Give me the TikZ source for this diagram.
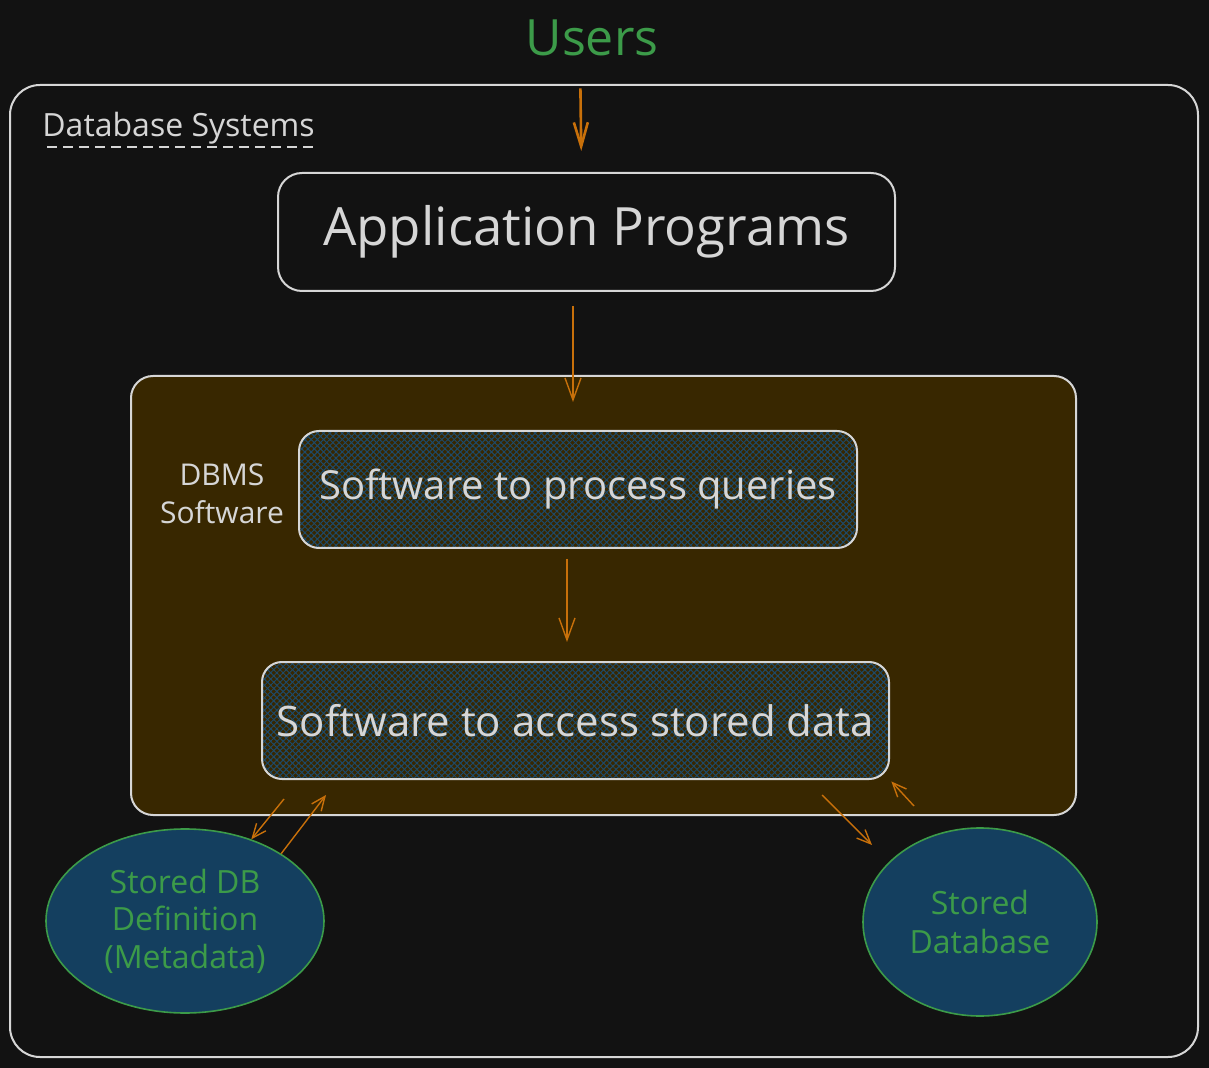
\documentclass[tikz,border=0pt]{standalone}
\usepackage{fontspec}
\setmainfont{Open Sans}
\usetikzlibrary{arrows.meta,shapes.geometric,patterns.meta}

\definecolor{bgdark}{HTML}{121212}
\definecolor{linegrey}{HTML}{D6D6D6}
\definecolor{flowor}{HTML}{C8700A}
\definecolor{dbmsbrown}{HTML}{382700}
\definecolor{hatchblue}{HTML}{1D4A6B}
\definecolor{storeblue}{HTML}{143F5F}
\definecolor{storegreen}{HTML}{3C9B49}

\tikzset{
  panel/.style={draw=linegrey, line width=1pt, inner sep=0pt},
  appbox/.style={panel, rounded corners=12pt, fill=bgdark, text=linegrey},
  softbox/.style={panel, rounded corners=10pt, text=linegrey,
    preaction={pattern={Lines[angle=45,distance=2.2pt,line width=.5pt]}, pattern color=hatchblue},
    preaction={pattern={Lines[angle=-45,distance=2.2pt,line width=.5pt]}, pattern color=hatchblue}},
  store/.style={ellipse, draw=storegreen, line width=.8pt, fill=storeblue, text=storegreen,
    align=center, inner sep=0pt},
  flow/.style={draw=flowor, line width=.7pt, -{Straight Barb[length=11pt,width=8pt]}},
  smallflow/.style={draw=flowor, line width=.7pt, -{Straight Barb[length=7pt,width=6pt]}},
}

\begin{document}
\begin{tikzpicture}[x=0.5pt,y=-0.5pt]
	
	\fill[bgdark] (0,0) rectangle (1209,1068);
	\useasboundingbox (0,0) rectangle (1209,1068);
	
	\node[panel, rounded corners=15pt, minimum width=594pt, minimum height=486pt] (dbsys) at (604,571) {};
	\node[text=storegreen, inner sep=0pt, font=\fontsize{25}{30}\selectfont] (users) at (592,38) {Users};
	\node[text=linegrey, inner sep=0pt, anchor=base west, font=\fontsize{16}{20}\selectfont] (dbsyslabel) at (42,137) {Database Systems};
	\draw[linegrey, line width=1pt, dash pattern=on 5pt off 3pt] ([xshift=2.5pt,yshift=-5pt]dbsyslabel.base west) -- ([yshift=-5pt]dbsyslabel.base east);
	
	\node[appbox, minimum width=308.5pt, minimum height=59pt, font=\fontsize{26.4}{30}\selectfont] (app) at (586.5,232) {Application Programs};
	
	\node[panel, rounded corners=11pt, fill=dbmsbrown, minimum width=472.5pt, minimum height=219.5pt] (dbms) at (603.5,595.5) {};
	\node[text=linegrey, align=center, font=\fontsize{15}{19}\selectfont] (dbmslabel) at (222,494) {DBMS\\Software};
	\node[softbox, minimum width=279pt, minimum height=58.5pt, font=\fontsize{20}{24}\selectfont] (query) at (578,489.5) {Software to process queries};
	\node[softbox, minimum width=313.5pt, minimum height=58.5pt, font=\fontsize{21}{24}\selectfont] (access) at (575.5,720.5) {Software to access stored data};
	
	\node[store, minimum width=139pt, minimum height=92pt, font=\fontsize{16}{18.75}\selectfont] (meta) at (185,921) {Stored DB\\Definition\\(Metadata)};
	\node[store, minimum width=117pt, minimum height=94pt, font=\fontsize{16}{19.5}\selectfont] (db) at (980,922) {Stored\\Database};
	
	\draw[flow, line width=1.3pt, -{Straight Barb[length=12pt,width=7pt]}, shorten <=16pt, shorten >=10.5pt] ([xshift=-6pt]users.south) -- ([xshift=-2.5pt]app.north);
	\draw[flow, shorten <=7pt, shorten >=14pt] ([xshift=-6.75pt]app.south) -- ([xshift=-2.5pt]query.north);
	\draw[flow, shorten <=5pt, shorten >=9.5pt] ([xshift=-5.5pt]query.south) -- ([xshift=-4.25pt]access.north);
	
	\coordinate (metaout) at (284,799);
	\coordinate (metain) at (326,795);
	\coordinate (dbout) at (822,795);
	\coordinate (dbend) at (872,845);
	\coordinate (dbin) at (914,806);
	\draw[smallflow] (metaout) -- (meta);
	\draw[smallflow] (meta.35) -- (metain);
	\draw[smallflow] (dbout) -- (dbend);
	\draw[smallflow, shorten >=1pt] (dbin) -- (access.south east);
	
\end{tikzpicture}
\end{document}
